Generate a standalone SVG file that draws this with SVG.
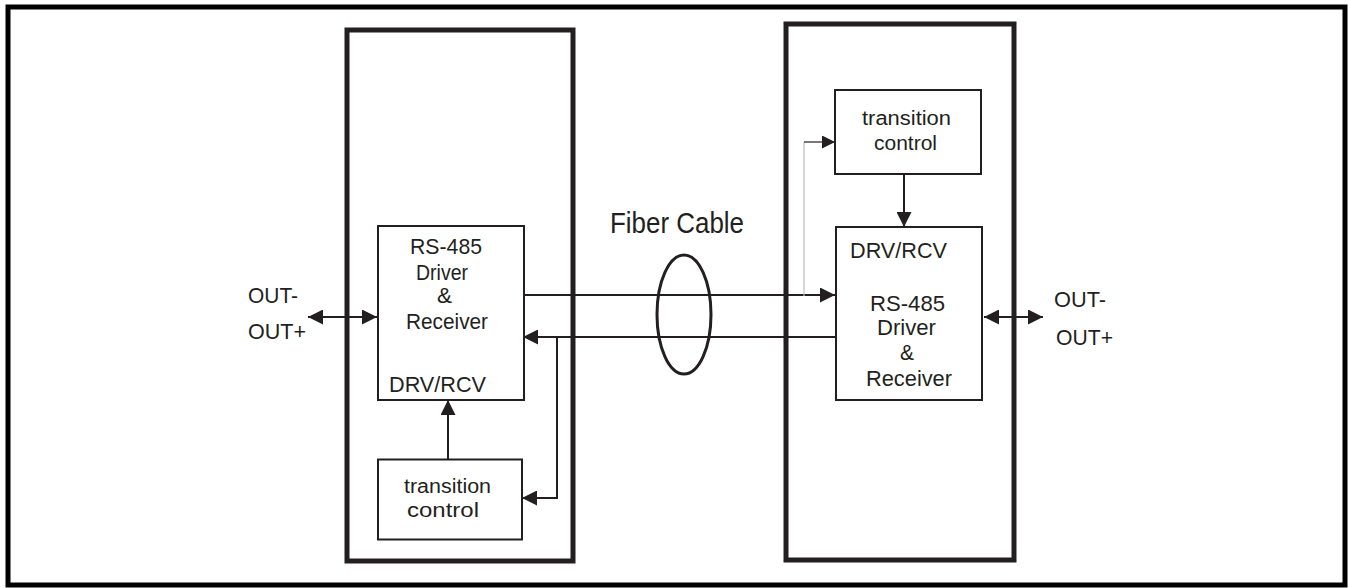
<svg xmlns="http://www.w3.org/2000/svg" width="1348" height="588" viewBox="0 0 1348 588">
<style>
.frame{fill:none;stroke:#000;stroke-width:5}
.big{fill:none;stroke:#231f20;stroke-width:5}
.box{fill:#fff;stroke:#231f20;stroke-width:2}
.ln{fill:none;stroke:#231f20;stroke-width:2}
.t{font-family:"Liberation Sans",Arial,sans-serif;fill:#231f20}
.m{font-size:22px}
.s{font-size:20px}
</style>
<defs>
<marker id="ah" markerUnits="userSpaceOnUse" markerWidth="15" markerHeight="15" refX="15" refY="7.5" orient="auto-start-reverse" viewBox="0 0 15 15">
<path d="M0,0 L15,7.5 L0,15 z" fill="#231f20"/>
</marker>
<marker id="ahs" markerUnits="userSpaceOnUse" markerWidth="13" markerHeight="13" refX="13" refY="6.5" orient="auto" viewBox="0 0 13 13">
<path d="M0,0 L13,6.5 L0,13 z" fill="#231f20"/>
</marker>
</defs>
<rect class="frame" x="8" y="7" width="1337" height="578"/>
<g id="left-unit"><rect class="big" x="347" y="30" width="226" height="531"/></g>
<g id="right-unit"><rect class="big" x="786" y="24" width="228" height="536"/></g>

<g id="connectors">
<line class="ln" x1="308" y1="317" x2="377" y2="317" marker-start="url(#ah)" marker-end="url(#ah)"/>
<line class="ln" x1="984" y1="317" x2="1043" y2="317" marker-start="url(#ah)" marker-end="url(#ah)"/>
<line class="ln" x1="524" y1="295" x2="835" y2="295" marker-end="url(#ah)"/>
<line class="ln" x1="835" y1="337" x2="523" y2="337" marker-end="url(#ah)"/>
<polyline class="ln" points="557,337 557,498 522,498" marker-end="url(#ah)"/>
<line class="ln" x1="448" y1="459" x2="448" y2="400" marker-end="url(#ah)"/>
<line class="ln" x1="904" y1="174" x2="904" y2="227" marker-end="url(#ah)"/>
<line x1="804" y1="296" x2="804" y2="142" stroke="#bdbdbd" stroke-width="1.2"/>
<line x1="804" y1="142" x2="835" y2="142" stroke="#231f20" stroke-width="1.2" marker-end="url(#ahs)"/>
</g>

<g id="fiber-cable">
<ellipse cx="684" cy="314.5" rx="27" ry="59.5" fill="none" stroke="#231f20" stroke-width="3"/>
<text class="t" x="610" y="233" font-size="30" textLength="134" lengthAdjust="spacingAndGlyphs">Fiber Cable</text>
</g>

<g id="left-drv">
<rect class="box" x="378" y="226" width="146" height="174"/>
<text class="t m" x="410" y="254" textLength="72" lengthAdjust="spacingAndGlyphs">RS-485</text>
<text class="t m" x="416" y="280" textLength="52" lengthAdjust="spacingAndGlyphs">Driver</text>
<text class="t m" x="437" y="303" textLength="15" lengthAdjust="spacingAndGlyphs">&amp;</text>
<text class="t m" x="406" y="329" textLength="82" lengthAdjust="spacingAndGlyphs">Receiver</text>
<text class="t m" x="389" y="392" textLength="97" lengthAdjust="spacingAndGlyphs">DRV/RCV</text>
</g>

<g id="left-tc">
<rect class="box" x="378" y="459.5" width="144" height="80"/>
<text class="t s" x="404" y="493" textLength="87" lengthAdjust="spacingAndGlyphs">transition</text>
<text class="t s" x="407" y="517" textLength="72" lengthAdjust="spacingAndGlyphs">control</text>
</g>

<g id="right-tc">
<rect class="box" x="835" y="90" width="146" height="84"/>
<text class="t s" x="862" y="125" textLength="89" lengthAdjust="spacingAndGlyphs">transition</text>
<text class="t s" x="874" y="150" textLength="63" lengthAdjust="spacingAndGlyphs">control</text>
</g>

<g id="right-drv">
<rect class="box" x="836" y="227" width="146" height="173"/>
<text class="t m" x="850" y="258" textLength="97" lengthAdjust="spacingAndGlyphs">DRV/RCV</text>
<text class="t m" x="870" y="311" textLength="75" lengthAdjust="spacingAndGlyphs">RS-485</text>
<text class="t m" x="877" y="335" textLength="59" lengthAdjust="spacingAndGlyphs">Driver</text>
<text class="t m" x="900" y="360" textLength="14" lengthAdjust="spacingAndGlyphs">&amp;</text>
<text class="t m" x="866" y="386" textLength="86" lengthAdjust="spacingAndGlyphs">Receiver</text>
</g>

<g id="left-out">
<text class="t m" x="248" y="303" textLength="50" lengthAdjust="spacingAndGlyphs">OUT-</text>
<text class="t m" x="248" y="339" textLength="58" lengthAdjust="spacingAndGlyphs">OUT+</text>
</g>
<g id="right-out">
<text class="t m" x="1054" y="307" textLength="52" lengthAdjust="spacingAndGlyphs">OUT-</text>
<text class="t m" x="1056" y="345" textLength="57" lengthAdjust="spacingAndGlyphs">OUT+</text>
</g>
</svg>
